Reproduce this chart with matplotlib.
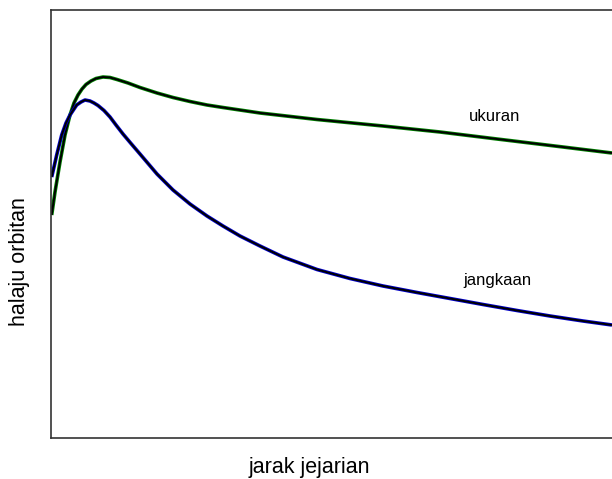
import matplotlib
matplotlib.use("Agg")
import matplotlib.pyplot as plt

plt.rcParams['font.family'] = ['Liberation Sans', 'DejaVu Sans']

# data (x: radius units, y: velocity units)
ukuran_x = [0.7, 4, 9, 14, 19, 23, 27, 31, 35, 40, 45, 52, 59, 66, 77, 89, 106, 122, 139, 156, 172, 209, 266, 332, 389, 446, 512, 561]
ukuran_y = [223, 246, 276, 303, 323, 335, 343, 349, 353.5, 357, 359.5, 361, 360.5, 358.5, 355, 350.5, 345, 340.5, 336.5, 333, 330.5, 325, 318.5, 312, 306, 299, 291, 285]

jangkaan_x = [0.7, 5.7, 10.7, 15, 19, 25.7, 30, 34, 39, 43, 47, 53, 59, 65, 72, 80, 89, 106, 122, 139, 156, 172, 189, 209, 232, 266, 299, 332, 366, 399, 432, 466, 499, 532, 561]
jangkaan_y = [261, 283, 303, 315, 323, 333, 336, 338, 337, 335, 332.5, 327.5, 321, 313, 304, 294.5, 284, 264, 248, 234, 222, 212, 202, 192, 181, 168.5, 159.5, 152, 145.5, 139.5, 133.5, 127.5, 122, 117, 113]

labels = ["ukuran", "jangkaan"]
label_pos_x = [444, 446]
label_pos_y = [322, 157]

fig = plt.figure(figsize=(6.12, 4.79), dpi=100)
ax = fig.add_axes([51/612, 1 - 438/479, 1 - 51/612, (438 - 10)/479])

ax.plot(ukuran_x, ukuran_y, color='#008000', lw=2.6, solid_capstyle='butt', solid_joinstyle='round')
ax.plot(ukuran_x, ukuran_y, color='black', lw=1.4, solid_capstyle='butt', solid_joinstyle='round')
ax.plot(jangkaan_x, jangkaan_y, color='#0000cc', lw=2.6, solid_capstyle='butt', solid_joinstyle='round')
ax.plot(jangkaan_x, jangkaan_y, color='black', lw=1.4, solid_capstyle='butt', solid_joinstyle='round')

for lab, lx, ly in zip(labels, label_pos_x, label_pos_y):
    ax.text(lx, ly, lab, ha='center', va='center', fontsize=12)

ax.set_xlim(0, 561)
ax.set_ylim(0, 428)
ax.set_xticks([])
ax.set_yticks([])
ax.spines['right'].set_visible(False)
for s in ['left', 'top', 'bottom']:
    ax.spines[s].set_color('#333333')
    ax.spines[s].set_linewidth(1.2)

fig.text(309/612, 1 - 467/479, "jarak jejarian", ha='center', va='center', fontsize=15.5)
fig.text(20/612, 1 - 262/479, "halaju orbitan", ha='center', va='center', rotation=90, fontsize=15.5)

fig.savefig("out.png", dpi=100)
